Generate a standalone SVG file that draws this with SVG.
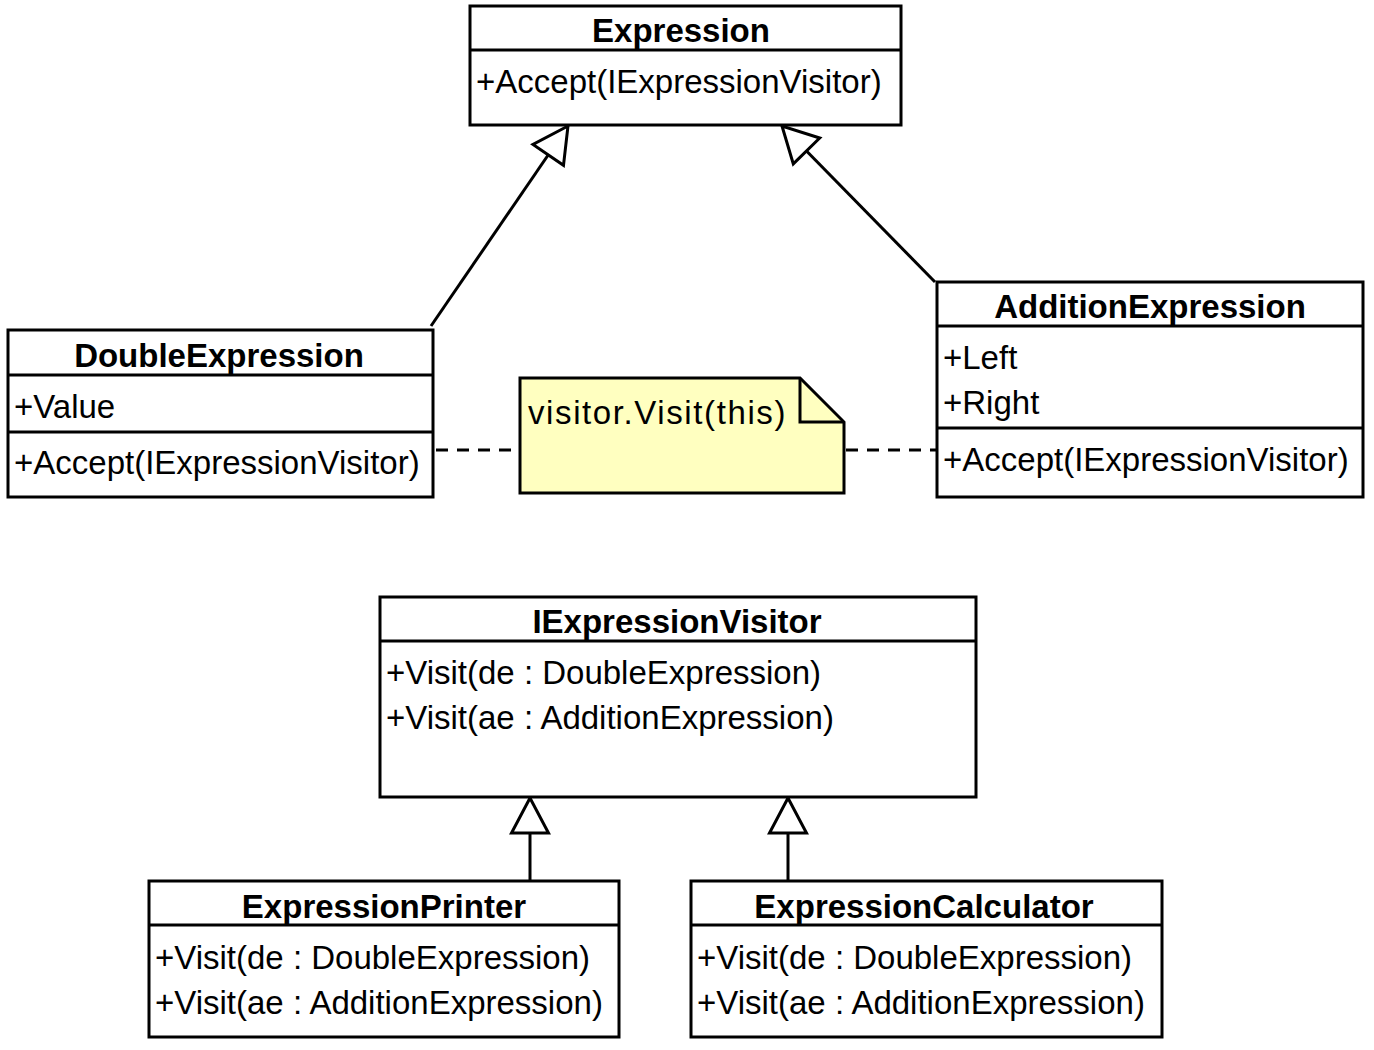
<svg xmlns="http://www.w3.org/2000/svg" width="1374" height="1050" viewBox="0 0 1374 1050">
<style>
.box{fill:#fff;stroke:#000;stroke-width:3}
.sep{stroke:#000;stroke-width:3}
.t{font-family:"Liberation Sans",Arial,sans-serif;font-size:33px;fill:#000}
.b{font-weight:bold;text-anchor:middle}
.edge{stroke:#000;stroke-width:3;fill:none}
.dash{stroke:#000;stroke-width:3;fill:none;stroke-dasharray:12 9}
.note{fill:#ffffc0;stroke:#000;stroke-width:3;stroke-linejoin:miter}
</style>
<defs>
<marker id="gen" markerUnits="userSpaceOnUse" viewBox="-40 -24 44 48" refX="0" refY="0" markerWidth="44" markerHeight="48" orient="auto" overflow="visible">
<path d="M0,0 L-35,-18.5 L-35,18.5 Z" fill="#fff" stroke="#000" stroke-width="3" stroke-linejoin="miter"/>
</marker>
</defs>
<rect width="1374" height="1050" fill="#fff"/>
<g id="connectors">
<line class="edge" x1="431" y1="326" x2="568" y2="126" marker-end="url(#gen)"/>
<line class="edge" x1="935" y1="282" x2="782" y2="126" marker-end="url(#gen)"/>
<line class="edge" x1="530" y1="881" x2="530" y2="798" marker-end="url(#gen)"/>
<line class="edge" x1="788" y1="881" x2="788" y2="798" marker-end="url(#gen)"/>
<line class="dash" x1="436" y1="450" x2="520" y2="450"/>
<line class="dash" x1="846" y1="450" x2="937" y2="450"/>
</g>
<g id="Expression">
<rect class="box" x="470" y="6" width="431" height="119"/>
<line class="sep" x1="470" y1="50" x2="901" y2="50"/>
<text class="t b" x="681" y="42">Expression</text>
<text class="t" x="476" y="93">+Accept(IExpressionVisitor)</text>
</g>
<g id="DoubleExpression">
<rect class="box" x="8" y="330" width="425" height="167"/>
<line class="sep" x1="8" y1="375" x2="433" y2="375"/>
<line class="sep" x1="8" y1="432" x2="433" y2="432"/>
<text class="t b" x="219" y="367">DoubleExpression</text>
<text class="t" x="14" y="418">+Value</text>
<text class="t" x="14" y="474">+Accept(IExpressionVisitor)</text>
</g>
<g id="AdditionExpression">
<rect class="box" x="937" y="282" width="426" height="215"/>
<line class="sep" x1="937" y1="326" x2="1363" y2="326"/>
<line class="sep" x1="937" y1="428" x2="1363" y2="428"/>
<text class="t b" x="1150" y="318">AdditionExpression</text>
<text class="t" x="943" y="369">+Left</text>
<text class="t" x="943" y="414">+Right</text>
<text class="t" x="943" y="471">+Accept(IExpressionVisitor)</text>
</g>
<g id="note">
<path class="note" d="M520,378 L800,378 L844,422 L844,493 L520,493 Z"/>
<path class="edge" d="M800,378 L800,422 L844,422"/>
<text class="t" x="528" y="424" letter-spacing="1.6">visitor.Visit(this)</text>
</g>
<g id="IExpressionVisitor">
<rect class="box" x="380" y="597" width="596" height="200"/>
<line class="sep" x1="380" y1="641" x2="976" y2="641"/>
<text class="t b" x="677" y="633">IExpressionVisitor</text>
<text class="t" x="386" y="684">+Visit(de : DoubleExpression)</text>
<text class="t" x="386" y="729">+Visit(ae : AdditionExpression)</text>
</g>
<g id="ExpressionPrinter">
<rect class="box" x="149" y="881" width="470" height="156"/>
<line class="sep" x1="149" y1="925" x2="619" y2="925"/>
<text class="t b" x="384" y="918">ExpressionPrinter</text>
<text class="t" x="155" y="969">+Visit(de : DoubleExpression)</text>
<text class="t" x="155" y="1014">+Visit(ae : AdditionExpression)</text>
</g>
<g id="ExpressionCalculator">
<rect class="box" x="691" y="881" width="471" height="156"/>
<line class="sep" x1="691" y1="925" x2="1162" y2="925"/>
<text class="t b" x="924" y="918">ExpressionCalculator</text>
<text class="t" x="697" y="969">+Visit(de : DoubleExpression)</text>
<text class="t" x="697" y="1014">+Visit(ae : AdditionExpression)</text>
</g>
</svg>
